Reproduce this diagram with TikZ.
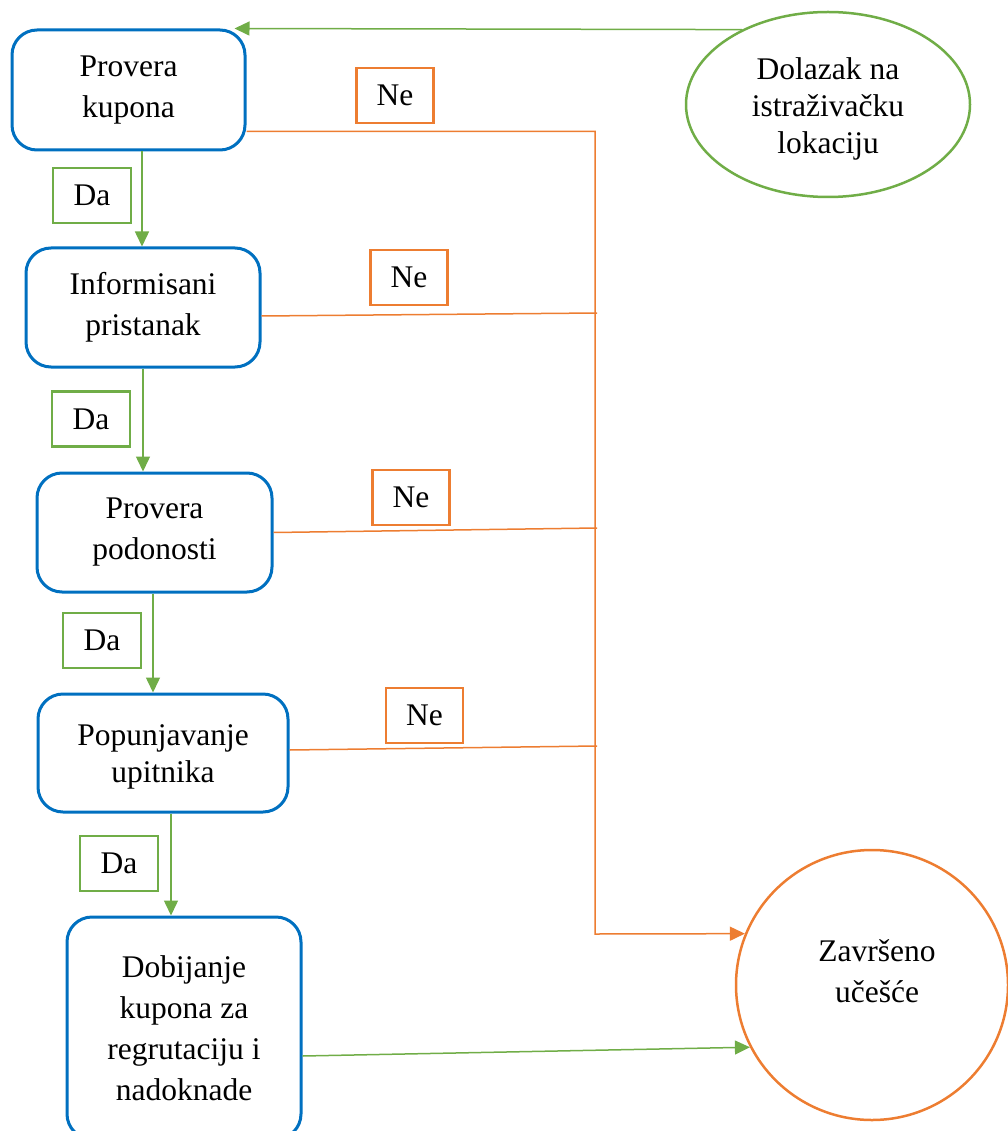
\documentclass[tikz,border=0pt]{standalone}
\usepackage{fontspec}
\setmainfont{Liberation Serif}
\usetikzlibrary{shapes.geometric,arrows.meta}
\definecolor{cblue}{HTML}{0070C0}
\definecolor{cgreen}{HTML}{70AD47}
\definecolor{corange}{HTML}{ED7D31}
\tikzset{
  every node/.style={font=\fontsize{31.5}{41}\selectfont, inner sep=0pt, align=center},
  tight/.style={font=\fontsize{31.5}{37}\selectfont},
  stepbox/.style={draw=cblue, line width=3pt, rounded corners=25pt, fill=white},
  dabox/.style={draw=cgreen, line width=2.5pt, minimum width=78pt, minimum height=55pt},
  nebox/.style={draw=corange, line width=2.5pt, minimum width=77pt, minimum height=55pt},
  gline/.style={draw=cgreen, line width=1.5pt},
  garrow/.style={gline, -{Triangle[length=15pt,width=14pt]}},
  oline/.style={draw=corange, line width=1.5pt},
  oarrow/.style={oline, -{Triangle[length=15pt,width=14pt]}},
}
\begin{document}
\begin{tikzpicture}[x=1pt,y=-1pt]
\useasboundingbox (0,0) rectangle (1008,1131);
% steps
\node[stepbox, minimum width=233pt, minimum height=120pt] (b1) at (128.5,90) {Provera\\kupona};
\node[stepbox, minimum width=234pt, minimum height=119pt] (b2) at (143,307.5) {Informisani\\pristanak};
\node[stepbox, minimum width=235pt, minimum height=119pt] (b3) at (154.5,532.5) {Provera\\podonosti};
\node[stepbox, minimum width=250pt, minimum height=118pt] (b4) at (163,753) {};
\node[tight] (b4text) at (163,757) {Popunjavanje\\upitnika};
\node[stepbox, minimum width=234pt, minimum height=222pt] (b5) at (184,1028) {Dobijanje\\kupona za\\regrutaciju i\\nadoknade};
% start / end
\node[ellipse, draw=cgreen, line width=2.5pt, minimum width=284pt, minimum height=185pt] (ell) at (828,104.5) {};
\node[tight] (elltext) at (828,109) {Dolazak na\\istraživačku\\lokaciju};
\node[ellipse, draw=corange, line width=2.5pt, minimum width=272pt, minimum height=270pt] (fin) at (872,985) {};
\node (fintext) at (877,971) {Završeno\\učešće};
% labels
\node[dabox] (da1) at (92,195.5) {Da};
\node[dabox] (da2) at (91,419) {Da};
\node[dabox] (da3) at (102,640.5) {Da};
\node[dabox] (da4) at (119,863.5) {Da};
\node[nebox] (ne1) at (395,95.5) {Ne};
\node[nebox] (ne2) at (409,277.5) {Ne};
\node[nebox] (ne3) at (411,497.5) {Ne};
\node[nebox] (ne4) at (424.5,715.5) {Ne};
% green connectors
\draw[garrow] (ell.139) -- ([xshift=-12pt]b1.north east);
\draw[garrow] ([xshift=13.5pt]b1.south) -- ([xshift=13.5pt]b1.south |- b2.north);
\draw[garrow] (b2.south) -- (b2.south |- b3.north);
\draw[garrow] ([xshift=-1.5pt]b3.south) -- ([xshift=-1.5pt]b3.south |- b4.north);
\draw[garrow] ([xshift=8pt]b4.south) -- ([xshift=8pt]b4.south |- b5.north);
\draw[garrow] ([yshift=-28pt]b5.east) -- (fin.207);
% orange connectors
\coordinate (turn) at (595,934);
\coordinate (j2) at (597,313);
\coordinate (j3) at (597,528);
\coordinate (j4) at (597,746);
\draw[oarrow] ([yshift=20pt]b1.south east) -| (turn) -- (fin.158);
\draw[oline] ([yshift=-8.5pt]b2.east) -- (j2);
\draw[oline] (b3.east) -- (j3);
\draw[oline] ([yshift=3pt]b4.east) -- (j4);
\end{tikzpicture}
\end{document}
